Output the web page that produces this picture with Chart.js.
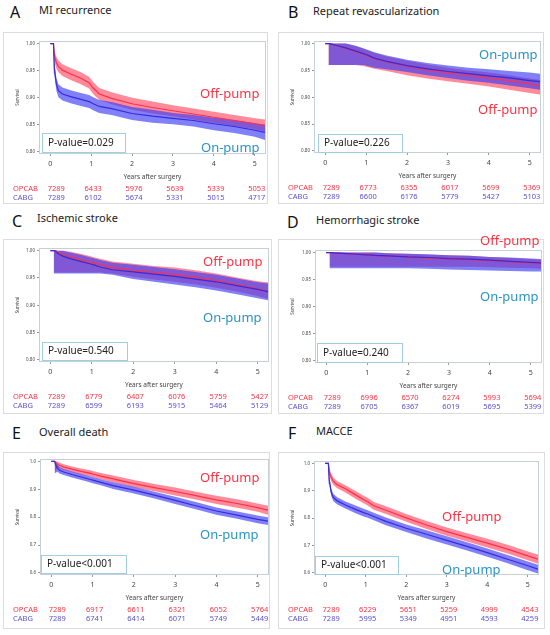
<!DOCTYPE html>
<html>
<head>
<meta charset="utf-8">
<script src="https://cdn.jsdelivr.net/npm/chart.js@4.4.1/dist/chart.umd.min.js"></script>
<style>
  body { margin: 0; width: 550px; height: 635px; position: relative; overflow: hidden; background: #fff; font-family: "Noto Sans", sans-serif; }
  .letter { position: absolute; font-size: 16px; line-height: 16px; color: #111; }
  .title { position: absolute; font-size: 11px; line-height: 14px; color: #222; white-space: nowrap; }
  .box { position: absolute; border: 1px solid #dcdcdc; box-sizing: border-box; }
  .grp { position: absolute; font-size: 13px; line-height: 16px; white-space: nowrap; z-index: 2; }
  canvas { position: absolute; }
</style>
</head>
<body>
<script>
// ---- data ----
const YEARS = [0, 0.08, 0.1, 0.15, 0.2, 0.3, 0.5, 0.75, 0.95, 1.05, 1.2, 1.5, 2, 2.5, 3, 3.5, 4, 4.5, 5, 5.25];
const X_TICKS = [0, 1, 2, 3, 4, 5];
const Y_TICKS_FINE = [0.80, 0.85, 0.90, 0.95, 1.00];
const Y_TICKS_WIDE = [0.6, 0.7, 0.8, 0.9, 1.0];

const LETTERS = ['A', 'B', 'C', 'D', 'E', 'F'];
const TITLES = ['MI recurrence', 'Repeat revascularization', 'Ischemic stroke', 'Hemorrhagic stroke', 'Overall death', 'MACCE'];
const P_VALUES = ['P-value=0.029', 'P-value=0.226', 'P-value=0.540', 'P-value=0.240', 'P-value<0.001', 'P-value<0.001'];

// A - MI recurrence
const A_OFF    = [1, 1, 0.978, 0.965, 0.958, 0.951, 0.944, 0.936, 0.928, 0.918, 0.907, 0.899, 0.889, 0.882, 0.876, 0.870, 0.864, 0.858, 0.852, 0.849];
const A_OFF_HI = [null, 1, 0.988, 0.976, 0.969, 0.962, 0.955, 0.947, 0.939, 0.929, 0.918, 0.910, 0.900, 0.893, 0.886, 0.880, 0.874, 0.868, 0.862, 0.860];
const A_OFF_LO = [null, 0.968, 0.968, 0.954, 0.947, 0.940, 0.933, 0.925, 0.917, 0.907, 0.896, 0.888, 0.878, 0.871, 0.866, 0.860, 0.854, 0.848, 0.842, 0.838];
const A_ON     = [1, 1, 0.955, 0.925, 0.913, 0.907, 0.902, 0.897, 0.893, 0.889, 0.884, 0.880, 0.871, 0.866, 0.862, 0.858, 0.852, 0.847, 0.840, 0.836];
const A_ON_HI  = [null, 1, 0.967, 0.937, 0.925, 0.919, 0.914, 0.909, 0.905, 0.901, 0.896, 0.892, 0.883, 0.878, 0.872, 0.868, 0.863, 0.859, 0.853, 0.850];
const A_ON_LO  = [null, 0.945, 0.943, 0.913, 0.901, 0.895, 0.890, 0.885, 0.881, 0.877, 0.872, 0.868, 0.859, 0.854, 0.851, 0.847, 0.840, 0.835, 0.828, 0.822];
const A_OPCAB = [7289, 6433, 5976, 5639, 5339, 5053];
const A_CABG  = [7289, 6102, 5674, 5331, 5015, 4717];

// B - Repeat revascularization
const B_OFF    = [1, 1, 1, 0.999, 0.998, 0.996, 0.991, 0.985, 0.980, 0.977, 0.972, 0.966, 0.958, 0.951, 0.946, 0.941, 0.936, 0.931, 0.925, 0.921];
const B_OFF_HI = [null, 1, 1, 1, 1, 1, 1, 0.995, 0.990, 0.987, 0.983, 0.976, 0.968, 0.961, 0.955, 0.950, 0.946, 0.941, 0.935, 0.932];
const B_OFF_LO = [null, 0.96, 0.96, 0.96, 0.96, 0.96, 0.96, 0.96, 0.958, 0.956, 0.953, 0.949, 0.941, 0.935, 0.930, 0.925, 0.920, 0.914, 0.908, 0.905];
const B_ON     = [1, 1, 1, 0.999, 0.998, 0.996, 0.992, 0.986, 0.981, 0.978, 0.973, 0.967, 0.959, 0.953, 0.948, 0.944, 0.940, 0.936, 0.931, 0.929];
const B_ON_HI  = [null, 1, 1, 1, 1, 1, 1, 0.996, 0.991, 0.988, 0.984, 0.978, 0.970, 0.964, 0.959, 0.955, 0.952, 0.949, 0.946, 0.944];
const B_ON_LO  = [null, 0.96, 0.96, 0.96, 0.96, 0.96, 0.96, 0.96, 0.96, 0.958, 0.955, 0.952, 0.947, 0.941, 0.936, 0.931, 0.927, 0.922, 0.917, 0.914];
const B_OPCAB = [7289, 6773, 6355, 6017, 5699, 5369];
const B_CABG  = [7289, 6600, 6176, 5779, 5427, 5103];

// C - Ischemic stroke
const C_OFF    = [1, 1, 1, 0.999, 0.997, 0.993, 0.988, 0.983, 0.979, 0.977, 0.974, 0.969, 0.964, 0.960, 0.956, 0.951, 0.945, 0.938, 0.930, 0.926];
const C_OFF_HI = [null, 1, 1, 1, 1, 1, 0.998, 0.994, 0.990, 0.988, 0.985, 0.980, 0.976, 0.972, 0.969, 0.964, 0.958, 0.951, 0.944, 0.942];
const C_OFF_LO = [null, 0.96, 0.96, 0.96, 0.96, 0.96, 0.96, 0.96, 0.96, 0.96, 0.96, 0.958, 0.952, 0.947, 0.943, 0.938, 0.932, 0.925, 0.917, 0.912];
const C_ON     = [1, 1, 1, 0.997, 0.994, 0.990, 0.985, 0.980, 0.976, 0.974, 0.970, 0.965, 0.961, 0.957, 0.953, 0.948, 0.943, 0.936, 0.929, 0.925];
const C_ON_HI  = [null, 1, 1, 1, 1, 1, 0.996, 0.992, 0.988, 0.986, 0.983, 0.978, 0.974, 0.970, 0.966, 0.961, 0.956, 0.949, 0.942, 0.940];
const C_ON_LO  = [null, 0.958, 0.958, 0.958, 0.958, 0.958, 0.958, 0.958, 0.958, 0.958, 0.958, 0.956, 0.948, 0.943, 0.938, 0.933, 0.927, 0.920, 0.913, 0.909];
const C_OPCAB = [7289, 6779, 6407, 6076, 5759, 5427];
const C_CABG  = [7289, 6599, 6193, 5915, 5464, 5129];

// D - Hemorrhagic stroke
const D_OFF    = [1, 1, 1, 1, 0.999, 0.999, 0.998, 0.997, 0.996, 0.996, 0.995, 0.994, 0.992, 0.990, 0.988, 0.987, 0.985, 0.983, 0.981, 0.980];
const D_OFF_HI = [null, 1, 1, 1, 1, 1, 1, 1, 1, 1, 1, 0.999, 0.998, 0.996, 0.995, 0.994, 0.992, 0.990, 0.988, 0.987];
const D_OFF_LO = [null, 0.974, 0.974, 0.974, 0.974, 0.974, 0.974, 0.974, 0.974, 0.974, 0.974, 0.974, 0.974, 0.974, 0.974, 0.974, 0.973, 0.972, 0.971, 0.970];
const D_ON     = [1, 1, 1, 1, 0.999, 0.999, 0.998, 0.997, 0.996, 0.996, 0.995, 0.994, 0.992, 0.991, 0.989, 0.988, 0.986, 0.984, 0.982, 0.981];
const D_ON_HI  = [null, 1, 1, 1, 1, 1, 1, 1, 1, 1, 1, 0.999, 0.998, 0.997, 0.995, 0.994, 0.992, 0.991, 0.989, 0.988];
const D_ON_LO  = [null, 0.971, 0.971, 0.971, 0.971, 0.971, 0.971, 0.971, 0.971, 0.971, 0.971, 0.971, 0.971, 0.970, 0.969, 0.968, 0.967, 0.966, 0.965, 0.965];
const D_OPCAB = [7289, 6996, 6570, 6274, 5993, 5694];
const D_CABG  = [7289, 6705, 6367, 6019, 5695, 5399];

// E - Overall death
const E_OFF    = [1, 1, 0.997, 0.990, 0.985, 0.980, 0.972, 0.963, 0.957, 0.953, 0.947, 0.937, 0.920, 0.906, 0.892, 0.877, 0.862, 0.849, 0.834, 0.825];
const E_OFF_HI = [null, 1, 1, 1, 0.995, 0.990, 0.982, 0.974, 0.968, 0.964, 0.958, 0.949, 0.933, 0.919, 0.906, 0.891, 0.877, 0.864, 0.849, 0.841];
const E_OFF_LO = [null, 0.962, 0.965, 0.975, 0.975, 0.970, 0.962, 0.952, 0.946, 0.942, 0.936, 0.925, 0.907, 0.893, 0.878, 0.863, 0.847, 0.834, 0.819, 0.809];
const E_ON     = [1, 1, 0.990, 0.975, 0.968, 0.962, 0.953, 0.943, 0.935, 0.931, 0.925, 0.913, 0.897, 0.879, 0.860, 0.841, 0.822, 0.807, 0.792, 0.786];
const E_ON_HI  = [null, 1, 1, 0.987, 0.979, 0.973, 0.964, 0.954, 0.946, 0.942, 0.936, 0.925, 0.909, 0.891, 0.873, 0.854, 0.835, 0.820, 0.806, 0.800];
const E_ON_LO  = [null, 0.958, 0.958, 0.963, 0.957, 0.951, 0.942, 0.932, 0.924, 0.920, 0.914, 0.901, 0.885, 0.867, 0.847, 0.828, 0.809, 0.794, 0.778, 0.772];
const E_OPCAB = [7289, 6917, 6611, 6321, 6052, 5764];
const E_CABG  = [7289, 6741, 6414, 6071, 5749, 5449];

// F - MACCE
const F_OFF    = [1, 1, 0.970, 0.949, 0.935, 0.922, 0.907, 0.885, 0.868, 0.860, 0.845, 0.829, 0.801, 0.775, 0.751, 0.730, 0.709, 0.687, 0.662, 0.650];
const F_OFF_HI = [null, 1, 0.985, 0.962, 0.948, 0.935, 0.920, 0.899, 0.882, 0.874, 0.859, 0.843, 0.815, 0.790, 0.766, 0.745, 0.725, 0.703, 0.678, 0.667];
const F_OFF_LO = [null, 0.955, 0.955, 0.936, 0.922, 0.909, 0.894, 0.871, 0.854, 0.846, 0.831, 0.815, 0.787, 0.760, 0.736, 0.715, 0.693, 0.671, 0.646, 0.633];
const F_ON     = [1, 1, 0.940, 0.895, 0.876, 0.863, 0.848, 0.832, 0.820, 0.815, 0.806, 0.788, 0.763, 0.741, 0.719, 0.697, 0.674, 0.650, 0.626, 0.614];
const F_ON_HI  = [null, 1, 0.955, 0.909, 0.889, 0.876, 0.861, 0.846, 0.834, 0.829, 0.820, 0.802, 0.777, 0.756, 0.734, 0.712, 0.689, 0.665, 0.642, 0.630];
const F_ON_LO  = [null, 0.925, 0.925, 0.881, 0.863, 0.850, 0.835, 0.818, 0.806, 0.801, 0.792, 0.774, 0.749, 0.726, 0.704, 0.682, 0.659, 0.635, 0.610, 0.598];
const F_OPCAB = [7289, 6229, 5651, 5259, 4999, 4543];
const F_CABG  = [7289, 5995, 5349, 4951, 4593, 4259];

const SERIES = [
  [A_OFF, A_OFF_HI, A_OFF_LO, A_ON, A_ON_HI, A_ON_LO, A_OPCAB, A_CABG],
  [B_OFF, B_OFF_HI, B_OFF_LO, B_ON, B_ON_HI, B_ON_LO, B_OPCAB, B_CABG],
  [C_OFF, C_OFF_HI, C_OFF_LO, C_ON, C_ON_HI, C_ON_LO, C_OPCAB, C_CABG],
  [D_OFF, D_OFF_HI, D_OFF_LO, D_ON, D_ON_HI, D_ON_LO, D_OPCAB, D_CABG],
  [E_OFF, E_OFF_HI, E_OFF_LO, E_ON, E_ON_HI, E_ON_LO, E_OPCAB, E_CABG],
  [F_OFF, F_OFF_HI, F_OFF_LO, F_ON, F_ON_HI, F_ON_LO, F_OPCAB, F_CABG]
];

// ---- layout (page pixels) ----
const LAYOUT = [
  { letter: [10, 4], title: [39, 3], box: [3, 32, 265, 172], plot: [40, 42, 265, 153], wide: false,
    off: [200, 93], on: [201, 147], pbox: [42, 133, 83, 19] },
  { letter: [288, 4], title: [313, 4], box: [278, 32, 266, 172], plot: [315, 42, 540, 152], wide: false,
    off: [478, 109], on: [479, 54], pbox: [318, 134, 84, 18] },
  { letter: [12, 213], title: [37, 211], box: [3, 239, 269, 175], plot: [40, 249, 268, 361], wide: false,
    off: [203, 261], on: [203, 317], pbox: [42, 342, 85, 18] },
  { letter: [287, 214], title: [316, 213], box: [278, 239, 266, 175], plot: [316, 251, 541, 362], wide: false,
    off: [480, 240], on: [480, 296], pbox: [317, 343, 85, 19] },
  { letter: [12, 425], title: [39, 425], box: [3, 452, 267, 177], plot: [41, 460, 268, 574], wide: true,
    off: [200, 477], on: [200, 534], pbox: [41, 555, 85, 18] },
  { letter: [288, 425], title: [316, 424], box: [278, 452, 267, 177], plot: [315, 462, 538, 574], wide: true,
    off: [442, 516], on: [442, 569], pbox: [315, 556, 83, 18] }
];

const RED_LINE = '#ff3048';
const BLUE_LINE = '#3a2ad8';
const RED_BAND = 'rgba(255, 60, 85, 0.6)';
const BLUE_BAND = 'rgba(60, 60, 245, 0.65)';
const OFF_TEXT = '#ff3040';
const ON_TEXT = '#2b93c6';
const X_AXIS_H = 28;
const FONT = '"Noto Sans", sans-serif';

const decoPlugin = {
  id: 'deco',
  afterDatasetsDraw(chart, args, o) {
    const a = chart.chartArea, ctx = chart.ctx;
    ctx.save();
    ctx.strokeStyle = '#c6d0d8';
    ctx.lineWidth = 1;
    ctx.strokeRect(Math.round(a.left) - 0.5, Math.round(a.top) - 0.5, Math.round(a.right - a.left) + 1, Math.round(a.bottom - a.top) + 1);
    ctx.restore();
  },
  afterDraw(chart, args, o) {
    const ctx = chart.ctx, L = o.layout, bx = L.box[0], by = L.box[1];
    ctx.save();
    // p-value box
    const pb = L.pbox;
    ctx.fillStyle = '#fff';
    ctx.fillRect(pb[0] - bx, pb[1] - by, pb[2], pb[3]);
    ctx.strokeStyle = '#9fcfe0';
    ctx.lineWidth = 1;
    ctx.strokeRect(pb[0] - bx + 0.5, pb[1] - by + 0.5, pb[2], pb[3]);
    ctx.fillStyle = '#222';
    ctx.font = '10px ' + FONT;
    ctx.textBaseline = 'middle';
    ctx.textAlign = 'left';
    ctx.fillText(o.pval, pb[0] - bx + 6, pb[1] - by + pb[3] / 2 + 0.5);
    // numbers at risk
    const xs = chart.scales.x, base = chart.chartArea.bottom;
    ctx.font = '7.5px ' + FONT;
    const rows = [['OPCAB', o.opcab, OFF_TEXT, 36], ['CABG', o.cabg, '#5a4fd8', 45]];
    rows.forEach(r => {
      ctx.fillStyle = r[2];
      ctx.textAlign = 'left';
      ctx.fillText(r[0], 10, base + r[3]);
      ctx.textAlign = 'center';
      r[1].forEach((n, i) => {
        ctx.fillText(String(n), xs.getPixelForValue(X_TICKS[i]) + (i === 0 ? 6 : 2), base + r[3]);
      });
    });
    ctx.restore();
  }
};

function pts(arr) {
  const out = [];
  arr.forEach((v, i) => { if (v !== null) out.push({ x: YEARS[i], y: v }); });
  return out;
}

function band(arr, fill, color, order) {
  return { data: pts(arr), borderColor: 'rgba(0,0,0,0)', borderWidth: 0, pointRadius: 0,
           fill: fill, backgroundColor: color, order: order };
}

function addDiv(cls, x, y, text, color) {
  const d = document.createElement('div');
  d.className = cls;
  d.style.left = x + 'px';
  d.style.top = y + 'px';
  if (color) d.style.color = color;
  d.textContent = text;
  document.body.appendChild(d);
  return d;
}

LAYOUT.forEach((L, k) => {
  const s = SERIES[k];
  addDiv('letter', L.letter[0], L.letter[1], LETTERS[k]);
  addDiv('title', L.title[0], L.title[1], TITLES[k]);

  const box = document.createElement('div');
  box.className = 'box';
  box.style.left = L.box[0] + 'px';
  box.style.top = L.box[1] + 'px';
  box.style.width = L.box[2] + 'px';
  box.style.height = L.box[3] + 'px';
  document.body.appendChild(box);

  const cv = document.createElement('canvas');
  cv.width = L.box[2];
  cv.height = L.box[3];
  cv.style.left = L.box[0] + 'px';
  cv.style.top = L.box[1] + 'px';
  cv.style.width = L.box[2] + 'px';
  cv.style.height = L.box[3] + 'px';
  document.body.appendChild(cv);

  // group labels sit on top of the canvas (D's label crosses the box edge)
  addDiv('grp', L.off[0], L.off[1] - 8, 'Off-pump', OFF_TEXT);
  addDiv('grp', L.on[0], L.on[1] - 8, 'On-pump', ON_TEXT);

  const yTicks = L.wide ? Y_TICKS_WIDE : Y_TICKS_FINE;
  const yMin = L.wide ? 0.596 : 0.798;
  const yMax = L.wide ? 1.005 : 1.003;
  const yAxisW = L.plot[0] - L.box[0];

  new Chart(cv.getContext('2d'), {
    type: 'line',
    data: {
      datasets: [
        band(s[1], false, 'rgba(0,0,0,0)', 5),
        band(s[2], '-1', RED_BAND, 4),
        band(s[4], false, 'rgba(0,0,0,0)', 3),
        band(s[5], '-1', BLUE_BAND, 2),
        { data: pts(s[0]), borderColor: RED_LINE, borderWidth: 1.2, pointRadius: 0, fill: false, order: 1 },
        { data: pts(s[3]), borderColor: BLUE_LINE, borderWidth: 1.2, pointRadius: 0, fill: false, order: 0 }
      ]
    },
    options: {
      responsive: false,
      animation: false,
      events: [],
      layout: {
        padding: {
          left: 0,
          top: L.plot[1] - L.box[1],
          right: L.box[0] + L.box[2] - L.plot[2],
          bottom: L.box[1] + L.box[3] - L.plot[3] - X_AXIS_H
        }
      },
      elements: { line: { tension: 0 } },
      scales: {
        x: {
          type: 'linear', min: -0.25, max: 5.25,
          afterBuildTicks: sc => { sc.ticks = X_TICKS.map(v => ({ value: v })); },
          afterFit: sc => { sc.height = X_AXIS_H; },
          grid: { drawOnChartArea: false, drawTicks: true, tickLength: 3, color: '#999' },
          border: { display: false },
          ticks: { font: { size: 7, family: FONT }, color: '#444', padding: 4, maxRotation: 0 },
          title: { display: true, text: 'Years after surgery', font: { size: 6.5, family: FONT }, color: '#444', padding: { top: 0, bottom: 0 } }
        },
        y: {
          type: 'linear', min: yMin, max: yMax,
          afterBuildTicks: sc => { sc.ticks = yTicks.map(v => ({ value: v })); },
          afterFit: sc => { sc.width = yAxisW; },
          grid: { drawOnChartArea: false, drawTicks: true, tickLength: 3, color: '#999' },
          border: { display: false },
          ticks: { font: { size: 4.5, family: FONT }, color: '#444', padding: 2,
                   callback: v => L.wide ? v.toFixed(1) : v.toFixed(2) },
          title: { display: true, text: 'Survival', font: { size: 4.5, family: FONT }, color: '#444', padding: { top: 12, bottom: 0 } }
        }
      },
      plugins: {
        legend: { display: false },
        tooltip: { enabled: false },
        deco: { layout: L, pval: P_VALUES[k], opcab: s[6], cabg: s[7] }
      }
    },
    plugins: [decoPlugin]
  });
});
</script>
</body>
</html>
